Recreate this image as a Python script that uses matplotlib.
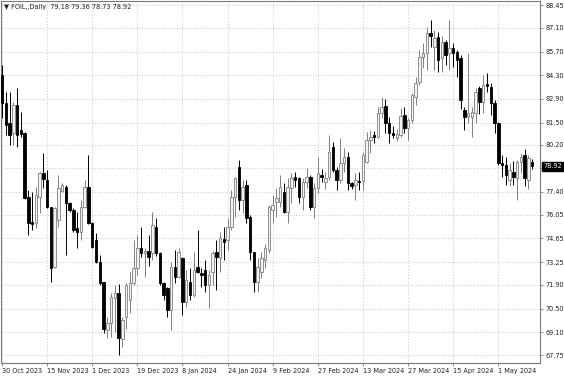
import matplotlib
matplotlib.use('Agg')
import matplotlib.pyplot as plt
from matplotlib.transforms import blended_transform_factory

# ---------------- data ----------------
opens = [84.31, 82.65, 81.47, 80.88, 82.54, 81.06, 80.88, 77.10, 75.62, 75.56,
         77.10, 78.51, 78.10, 76.50, 72.96, 75.74, 77.45, 77.69, 76.74, 76.33,
         75.26, 75.03, 76.50, 77.69, 75.56, 74.55, 73.25, 72.07, 69.23, 69.64,
         71.12, 71.42, 68.70, 70.00, 71.00, 72.01, 72.90, 74.08, 73.78, 73.90,
         73.78, 75.32, 73.78, 72.01, 71.71, 70.41, 72.96, 72.37, 73.49, 70.89,
         72.07, 71.30, 72.96, 72.60, 72.78, 71.89, 72.66, 73.84, 73.49, 74.61,
         74.55, 75.32, 77.10, 78.87, 76.92, 77.81, 75.91, 73.84, 72.07, 72.66,
         73.37, 73.96, 76.33, 76.80, 76.80, 77.39, 76.21, 77.63, 78.28, 78.22,
         77.10, 77.98, 78.28, 76.50, 77.63, 78.40, 78.00, 78.28, 80.05, 78.69,
         78.10, 79.11, 79.46, 77.92, 77.81, 78.04, 78.04, 79.17, 80.47, 80.76,
         80.64, 82.06, 82.48, 81.47, 80.88, 80.58, 80.76, 81.95, 81.18, 81.65,
         83.01, 83.90, 85.38, 85.61, 86.79, 85.97, 86.56, 85.32, 86.26, 85.60,
         85.91, 85.67, 85.32, 82.24, 81.90, 81.83, 82.06, 83.54, 82.71, 83.78,
         83.60, 82.65, 81.47, 79.11, 78.99, 78.10, 78.57, 78.22, 79.17, 79.58,
         78.10, 79.18]
highs = [84.90, 83.31, 83.31, 82.71, 83.54, 82.12, 80.94, 77.51, 77.39, 77.69,
         78.57, 79.70, 78.69, 76.50, 76.50, 78.40, 77.92, 77.81, 76.80, 76.44,
         76.21, 76.92, 78.10, 79.58, 75.62, 74.97, 73.67, 72.10, 70.00, 71.42,
         71.89, 71.95, 70.00, 72.01, 72.66, 74.55, 74.85, 75.32, 74.08, 74.85,
         76.21, 75.85, 73.84, 72.07, 71.77, 73.25, 73.96, 74.08, 73.55, 72.78,
         72.90, 73.84, 75.14, 72.90, 73.37, 72.78, 73.90, 74.55, 75.03, 75.32,
         75.85, 77.51, 78.28, 79.28, 78.10, 78.10, 76.03, 73.84, 73.49, 73.84,
         74.30, 76.62, 77.21, 77.63, 78.40, 77.92, 78.22, 78.51, 78.57, 78.28,
         78.22, 78.81, 78.40, 77.92, 79.46, 78.75, 78.60, 80.76, 80.35, 78.87,
         80.58, 80.00, 79.76, 78.00, 78.51, 78.60, 79.76, 80.94, 81.06, 81.00,
         82.42, 83.01, 82.90, 81.83, 81.30, 81.10, 82.36, 82.40, 81.77, 83.25,
         84.19, 85.79, 86.20, 87.15, 87.56, 86.97, 86.85, 86.60, 86.40, 87.56,
         86.20, 85.79, 85.50, 82.40, 85.61, 82.42, 83.54, 83.66, 84.31, 84.43,
         83.84, 82.83, 81.53, 79.58, 79.46, 79.10, 79.20, 79.28, 79.70, 79.95,
         79.60, 79.36]
lows = [81.77, 80.76, 80.17, 80.17, 80.05, 80.64, 76.95, 74.85, 75.14, 75.26,
        76.15, 77.63, 76.44, 72.07, 72.90, 75.32, 77.39, 73.67, 76.21, 75.03,
        74.08, 74.55, 76.44, 75.50, 74.08, 73.19, 71.89, 69.05, 68.76, 68.82,
        69.11, 67.75, 68.23, 69.30, 70.24, 71.89, 72.48, 73.55, 72.37, 73.00,
        73.37, 73.60, 71.89, 71.00, 70.00, 69.23, 72.00, 72.30, 70.12, 70.59,
        71.00, 71.18, 72.60, 71.77, 71.48, 70.53, 71.90, 71.60, 72.66, 73.37,
        73.96, 75.14, 75.91, 76.33, 76.15, 75.56, 73.37, 71.48, 71.48, 72.30,
        72.90, 73.78, 75.56, 75.91, 76.50, 76.15, 75.56, 76.74, 77.69, 76.74,
        76.33, 77.63, 76.33, 75.85, 77.33, 77.98, 77.60, 78.10, 78.57, 77.51,
        77.92, 78.60, 77.51, 77.60, 76.92, 77.50, 77.51, 79.11, 79.70, 80.30,
        80.58, 81.77, 80.88, 80.29, 80.60, 80.40, 80.64, 80.90, 80.47, 81.47,
        82.54, 83.72, 84.72, 84.61, 85.97, 84.61, 84.49, 84.49, 84.90, 84.61,
        84.78, 84.19, 82.30, 81.06, 81.47, 80.64, 81.47, 82.00, 82.06, 83.30,
        81.95, 80.88, 78.99, 78.28, 77.81, 77.75, 77.80, 76.92, 78.50, 77.75,
        77.60, 78.73]
closes = [82.65, 81.35, 80.76, 82.54, 80.76, 80.82, 77.04, 75.56, 75.50, 77.21,
          78.51, 78.16, 76.50, 72.90, 76.44, 77.63, 77.81, 76.74, 76.33, 75.14,
          75.03, 76.50, 77.69, 75.56, 74.14, 73.25, 72.01, 69.30, 69.64, 71.18,
          71.42, 68.76, 69.82, 71.89, 72.01, 72.90, 74.08, 73.78, 73.90, 73.55,
          75.44, 73.78, 72.01, 71.30, 70.41, 72.96, 72.37, 73.84, 70.89, 72.19,
          71.30, 72.78, 72.66, 72.48, 71.89, 72.48, 73.78, 73.55, 74.67, 74.43,
          75.32, 77.10, 78.22, 76.92, 77.69, 75.85, 73.84, 72.07, 72.96, 73.49,
          74.08, 76.50, 76.62, 77.04, 77.69, 76.21, 77.69, 78.22, 78.10, 77.10,
          77.98, 78.28, 76.50, 77.63, 78.51, 78.28, 78.25, 79.76, 78.69, 78.10,
          79.11, 79.46, 77.92, 77.75, 78.10, 77.98, 79.58, 80.47, 80.64, 80.64,
          82.06, 82.42, 81.47, 80.88, 80.76, 80.82, 81.88, 81.18, 81.65, 83.13,
          83.84, 85.38, 85.61, 86.79, 86.62, 86.50, 85.20, 86.26, 85.49, 85.90,
          85.61, 85.20, 82.83, 81.83, 82.06, 82.12, 83.31, 82.71, 83.72, 83.66,
          82.65, 81.47, 79.11, 78.99, 78.40, 78.69, 78.28, 79.17, 79.46, 78.22,
          79.40, 78.92]

date_labels = ['30 Oct 2023', '15 Nov 2023', '1 Dec 2023', '19 Dec 2023',
               '8 Jan 2024', '24 Jan 2024', '9 Feb 2024', '27 Feb 2024',
               '13 Mar 2024', '27 Mar 2024', '15 Apr 2024', '1 May 2024']
date_label_bars = [0, 12, 24, 36, 48, 60, 72, 84, 96, 108, 120, 132]

price_ticks = [88.45, 87.10, 85.70, 84.30, 82.90, 81.50, 80.20, 78.80,
               77.40, 76.05, 74.65, 73.25, 71.90, 70.50, 69.10, 67.75]
price_labels = ['88.45', '87.10', '85.70', '84.30', '82.90', '81.50', '80.20', '',
                '77.40', '76.05', '74.65', '73.25', '71.90', '70.50', '69.10', '67.75']

title_text = '\u25bc FOIL,,Daily  79.18 79.36 78.73 78.92'
last_price = 78.92

# ---------------- figure ----------------
W, H = 564, 376
fig = plt.figure(figsize=(W / 100, H / 100), dpi=100)
fig.patch.set_facecolor('white')
ax = fig.add_axes([1 / W, 1 - 363 / H, 539 / W, 362 / H])
ax.set_facecolor('white')

FS = 4.7
FONT = 'DejaVu Sans'

n = len(opens)
xs = list(range(n))
bw = 0.66
bull_face = '#f2f2f2'
bull_edge = '#7f7f7f'
bear_col = 'black'

for i in xs:
    o, h, l, c = opens[i], highs[i], lows[i], closes[i]
    bull = c >= o
    wick_col = bull_edge if bull else bear_col
    ax.vlines(i, l, h, color=wick_col, lw=0.7, zorder=3)
    lo, hi = min(o, c), max(o, c)
    hgt = max(hi - lo, 0.05)
    if bull:
        ax.bar(i, hgt, bottom=lo, width=bw, facecolor=bull_face,
               edgecolor=bull_edge, linewidth=0.6, zorder=4)
    else:
        ax.bar(i, hgt, bottom=lo, width=bw, facecolor=bear_col,
               edgecolor=bear_col, linewidth=0.6, zorder=4)

ax.set_xlim(-0.27, 143.1)
ax.set_ylim(67.28, 88.69)

# grid
for t in price_ticks:
    ax.axhline(t, color='#c8c8c8', lw=0.6, ls=(0, (1.5, 2)), zorder=1)
for b in date_label_bars:
    ax.axvline(b, color='#c8c8c8', lw=0.6, ls=(0, (1.5, 2)), zorder=1)

# axes / ticks
for s in ax.spines.values():
    s.set_color('#7a7a7a')
    s.set_linewidth(0.8)

ax.yaxis.tick_right()
ax.set_yticks(price_ticks)
ax.set_yticklabels(price_labels, fontsize=FS, family=FONT, color='#202020')
ax.tick_params(axis='y', right=True, left=False, length=2, width=0.6,
               color='#7a7a7a', pad=2)

ax.set_xticks(date_label_bars)
ax.set_xticklabels(date_labels, fontsize=FS, family=FONT, color='#202020', ha='left')
ax.tick_params(axis='x', bottom=True, length=2, width=0.6, color='#7a7a7a', pad=1.5)

# current price box
trans = blended_transform_factory(ax.transAxes, ax.transData)
ax.text(1.006, last_price, f'{last_price:.2f}', transform=trans, ha='left', va='center',
        fontsize=FS, family=FONT, color='white', zorder=10, clip_on=False,
        bbox=dict(boxstyle='square,pad=0.25', facecolor='black', edgecolor='black'))

# title
fig.text(4 / W, 1 - 7 / H, title_text, fontsize=FS, family=FONT, color='#202020',
         ha='left', va='center')

fig.savefig('out.png', dpi=100, facecolor='white')
